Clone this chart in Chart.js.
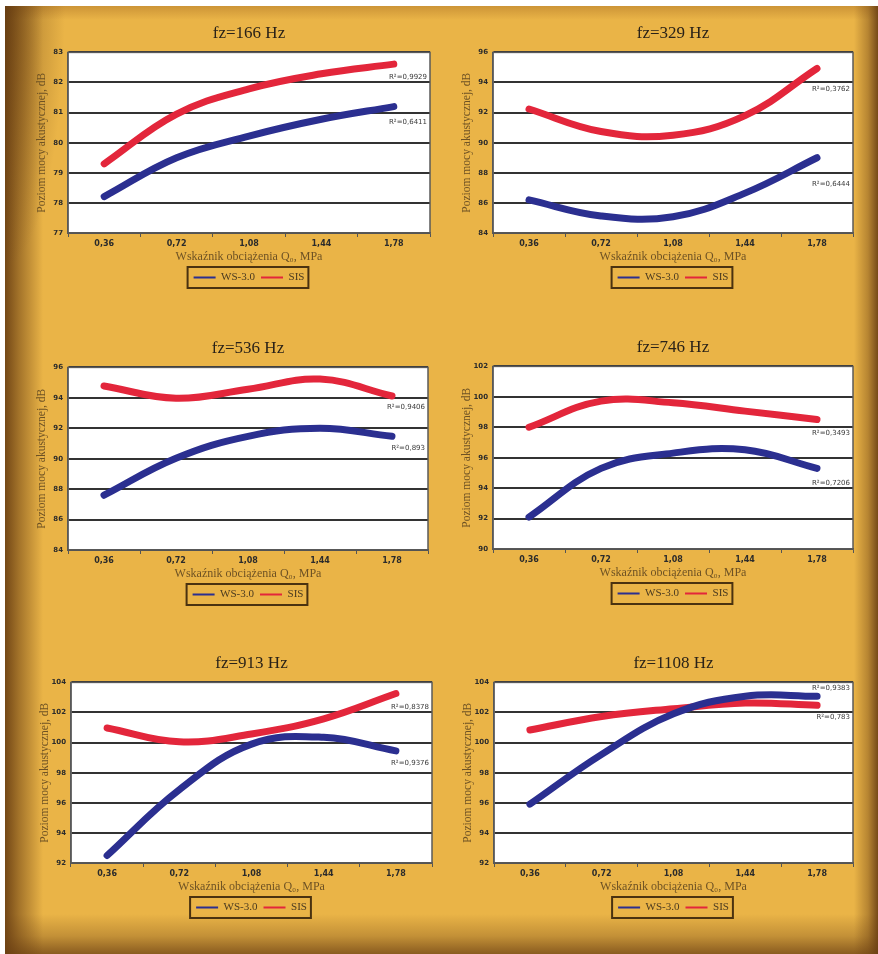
<!DOCTYPE html>
<html lang="pl">
<head>
<meta charset="utf-8">
<script src="https://cdn.jsdelivr.net/npm/chart.js@4.4.1/dist/chart.umd.min.js"></script>
<style>
  html, body { margin: 0; background: #fff; }
  #tlo {
    position: absolute; left: 5px; top: 6px; width: 873px; height: 948px;
    background:
      radial-gradient(ellipse 60px 260px at 0 0, rgba(95,55,15,0.55), rgba(95,55,15,0) 100%),
      linear-gradient(to right, rgba(105,62,18,0.92) 0, rgba(105,62,18,0.55) 14px, rgba(105,62,18,0) 38px),
      linear-gradient(to left, rgba(105,62,18,0.9) 0, rgba(105,62,18,0.4) 10px, rgba(105,62,18,0) 24px),
      linear-gradient(to top, rgba(105,62,18,0.75) 0, rgba(105,62,18,0.3) 18px, rgba(105,62,18,0) 40px),
      linear-gradient(to bottom, rgba(150,90,25,0.35) 0, rgba(150,90,25,0) 14px),
      #eab447;
  }
  .panel { position: absolute; }
</style>
</head>
<body>
<div id="tlo"></div>
<script>
// ---------------------------- Dane ---------------------------- //
const kategorie = ['0,36', '0,72', '1,08', '1,44', '1,78'];
const tytuly = ['fz=166 Hz', 'fz=329 Hz', 'fz=536 Hz', 'fz=746 Hz', 'fz=913 Hz', 'fz=1108 Hz'];
const serie = ['WS-3.0', 'SIS'];

const ws166  = [78.21, 79.50, 80.22, 80.78, 81.20];
const sis166 = [79.30, 80.95, 81.79, 82.29, 82.61];
const ws329  = [86.20, 85.13, 85.08, 86.65, 89.00];
const sis329 = [92.24, 90.74, 90.50, 91.80, 94.93];
const ws536  = [87.60, 90.03, 91.47, 92.00, 91.47];
const sis536 = [94.78, 93.97, 94.56, 95.23, 94.12];
const ws746  = [92.10, 95.30, 96.30, 96.52, 95.30];
const sis746 = [98.00, 99.72, 99.61, 99.06, 98.51];
const ws913  = [92.50, 96.87, 99.90, 100.35, 99.45];
const sis913 = [100.97, 100.05, 100.57, 101.58, 103.26];
const ws1108  = [95.91, 99.22, 101.91, 103.08, 103.08];
const sis1108 = [100.84, 101.74, 102.25, 102.63, 102.48];

const osY = [[77, 83, 1], [84, 96, 2], [84, 96, 2], [90, 102, 2], [92, 104, 2], [92, 104, 2]];
const r2Ws  = ['R²=0,6411', 'R²=0,6444', 'R²=0,893', 'R²=0,7206', 'R²=0,9376', 'R²=0,9383'];
const r2Sis = ['R²=0,9929', 'R²=0,3762', 'R²=0,9406', 'R²=0,3493', 'R²=0,8378', 'R²=0,783'];

const wartosci = [[ws166, sis166], [ws329, sis329], [ws536, sis536], [ws746, sis746], [ws913, sis913], [ws1108, sis1108]];

// ---------------------------- Układ i style ---------------------------- //
const ramki = [           // obszar wykresu w px strony
  { l: 68,  r: 430, t: 52,  b: 231 },
  { l: 493, r: 853, t: 52,  b: 231 },
  { l: 68,  r: 428, t: 367, b: 548 },
  { l: 493, r: 853, t: 366, b: 547 },
  { l: 71,  r: 432, t: 682, b: 861 },
  { l: 494, r: 853, t: 682, b: 861 }
];
const przesR2 = [[16, 13], [26, 21], [12, 11], [15, 14], [12, 14], [-8, 12]]; // [ws, sis] px pod końcem linii
const kolory = ['#2b2f90', '#e3263b'];
const SZER_Y = 36, WYS_X = 33;

const SERIF = "'Liberation Serif','Times New Roman',serif";
const SANS = "'DejaVu Sans',Verdana,sans-serif";

// białe tło + ramka obszaru wykresu
const tloWykresu = {
  id: 'tloWykresu',
  beforeDraw(ch) {
    const { ctx, chartArea: a } = ch;
    ctx.save();
    ctx.fillStyle = '#ffffff';
    ctx.fillRect(a.left, a.top, a.width, a.height);
    ctx.restore();
  },
  beforeDatasetsDraw(ch) {
    const { ctx, chartArea: a } = ch;
    ctx.save();
    ctx.strokeStyle = '#5a5a5a';
    ctx.lineWidth = 1.5;
    ctx.strokeRect(a.left, a.top, a.width, a.height);
    ctx.restore();
  }
};

// etykiety R² przy końcu linii trendu
const etykietyR2 = {
  id: 'etykietyR2',
  afterDatasetsDraw(ch, args, opts) {
    const { ctx, chartArea: a } = ch;
    const y = ch.scales.y;
    ctx.save();
    ctx.font = '7px ' + SANS;
    ctx.fillStyle = '#3a3a3a';
    ctx.textAlign = 'right';
    ctx.textBaseline = 'middle';
    ch.data.datasets.forEach((ds, i) => {
      const ost = ds.data[ds.data.length - 1];
      ctx.fillText(opts.teksty[i], a.right - 3, y.getPixelForValue(ost) + opts.przes[i]);
    });
    ctx.restore();
  }
};

// ramka wokół legendy
const ramkaLegendy = {
  id: 'ramkaLegendy',
  afterDraw(ch) {
    const boxes = ch.legend && ch.legend.legendHitBoxes;
    if (!boxes || !boxes.length) return;
    const l = Math.min(...boxes.map(b => b.left)) - 6;
    const r = Math.max(...boxes.map(b => b.left + b.width)) + 4;
    const t = boxes[0].top - 5;
    const h = boxes[0].height + 10;
    const { ctx } = ch;
    ctx.save();
    ctx.strokeStyle = '#4a3210';
    ctx.lineWidth = 2;
    ctx.strokeRect(l, t, r - l, h);
    ctx.restore();
  }
};

function utworzPanel(i) {
  const f = ramki[i];
  const left = f.l - SZER_Y, top = f.t - 34;
  const w = f.r - left + 2, h = (f.b - f.t) + 34 + WYS_X + 27 + 2;
  const div = document.createElement('div');
  div.className = 'panel';
  Object.assign(div.style, { left: left + 'px', top: top + 'px', width: w + 'px', height: h + 'px' });
  const cv = document.createElement('canvas');
  div.appendChild(cv);
  document.body.appendChild(div);

  const [min, max, krok] = osY[i];
  new Chart(cv, {
    type: 'line',
    data: {
      labels: kategorie,
      datasets: serie.map((nazwa, k) => ({
        label: nazwa,
        data: wartosci[i][k],
        borderColor: kolory[k],
        backgroundColor: kolory[k],
        borderWidth: 7,
        borderCapStyle: 'round',
        pointRadius: 0,
        tension: 0.4,
        fill: false
      }))
    },
    options: {
      responsive: true,
      maintainAspectRatio: false,
      animation: false,
      events: [],
      layout: { padding: { left: 0, right: 2, top: 0, bottom: 0 } },
      plugins: {
        title: {
          display: true, text: tytuly[i], fullSize: false,
          color: '#2a2218', font: { family: SERIF, size: 17, weight: 'normal' },
          padding: { top: 5, bottom: 9 }
        },
        legend: {
          position: 'bottom', fullSize: false,
          labels: {
            boxWidth: 22, boxHeight: 2, padding: 6,
            color: '#4a3a20', font: { family: SERIF, size: 11 },
            generateLabels: ch => Chart.defaults.plugins.legend.labels.generateLabels(ch).map(l => ({ ...l, lineWidth: 0 }))
          }
        },
        tooltip: { enabled: false },
        etykietyR2: { teksty: [r2Ws[i], r2Sis[i]], przes: przesR2[i] }
      },
      scales: {
        x: {
          offset: true,
          grid: { display: true, offset: true, drawOnChartArea: false, drawTicks: true, tickLength: 4, color: '#555' },
          border: { color: '#555', width: 1.5 },
          ticks: { padding: 2, color: '#2b2b2b', font: { family: SANS, size: 8, weight: 'bold' }, maxRotation: 0 },
          title: {
            display: true, text: 'Wskaźnik obciążenia Q₀, MPa', color: '#6e5224',
            font: { family: SERIF, size: 12 }, padding: { top: 2, bottom: 2 }
          },
          afterFit: s => { s.height = WYS_X; }
        },
        y: {
          min, max,
          grid: { color: '#333333', lineWidth: 2, drawTicks: false },
          border: { color: '#555', width: 1.5 },
          ticks: { stepSize: krok, padding: 5, color: '#2b2b2b', font: { family: SANS, size: 7, weight: 'bold' } },
          title: {
            display: true, text: 'Poziom mocy akustycznej, dB', color: '#6e5224',
            font: { family: SERIF, size: 11.5 }, padding: { top: 3, bottom: 0 }
          },
          afterFit: s => { s.width = SZER_Y; }
        }
      }
    },
    plugins: [tloWykresu, etykietyR2, ramkaLegendy]
  });
}

tytuly.forEach((_, i) => utworzPanel(i));
</script>
</body>
</html>
